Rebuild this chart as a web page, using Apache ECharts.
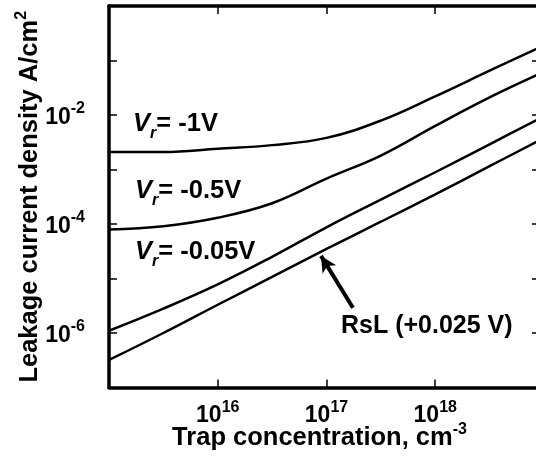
<!DOCTYPE html>
<html>
<head>
<meta charset="utf-8">
<script src="https://cdn.jsdelivr.net/npm/echarts@6/dist/echarts.min.js"></script>
<style>
  html, body { margin: 0; padding: 0; background: #fff; }
  #chart { width: 536px; height: 457px; }
</style>
</head>
<body>
<div id="chart"></div>
<script>
// trap concentration (cm^-3), half-decade steps
const trapConc = [1e15, 3.16e15, 1e16, 3.16e16, 1e17, 3.16e17, 1e18, 3.16e18, 1e19];
// leakage current density (A/cm^2)
const vr1 = [2.1e-3, 2.1e-3, 2.4e-3, 2.8e-3, 3.8e-3, 7.9e-3, 2.2e-2, 6.5e-2, 0.19];
const vr05 = [7.9e-5, 9.1e-5, 1.3e-4, 2.4e-4, 6.8e-4, 1.8e-3, 6.3e-3, 2.1e-2, 6.2e-2];
const vr005 = [1.1e-6, 2.8e-6, 7.8e-6, 2.5e-5, 8.7e-5, 2.8e-4, 8.9e-4, 2.9e-3, 9.5e-3];
const rsl = [3.2e-7, 1.0e-6, 3.3e-6, 1.07e-5, 3.5e-5, 1.1e-4, 3.5e-4, 1.15e-3, 3.8e-3];

// decades that carry a label
const xLabelExps = [16, 17, 18];
const yLabelExps = [-2, -4, -6];

// arrow from the RsL label to its curve
const arrowFrom = [1.75e17, 2.9e-6];
const arrowTo = [8.9e16, 2.6e-5];

const FONT = 'Liberation Sans, Arial, Helvetica, sans-serif';

function pairs(ys) {
    return trapConc.map(function (x, i) { return [x, ys[i]]; });
}

function powLabel(list) {
    return function (value) {
        const e = Math.round(Math.log10(value));
        if (list.indexOf(e) < 0) return '';
        return '{b|10}{s|' + e + '}';
    };
}

const powRich = {
    b: { fontFamily: FONT, fontWeight: 'bold', fontSize: 23, lineHeight: 28, verticalAlign: 'bottom', color: '#000' },
    s: { fontFamily: FONT, fontWeight: 'bold', fontSize: 16, lineHeight: 16, verticalAlign: 'top', color: '#000' }
};

const nameRich = {
    n: { fontFamily: FONT, fontWeight: 'bold', fontSize: 25.5, lineHeight: 29, verticalAlign: 'bottom', color: '#000' },
    s: { fontFamily: FONT, fontWeight: 'bold', fontSize: 16, lineHeight: 16, verticalAlign: 'top', color: '#000' }
};

const vRich = {
    v: { fontFamily: FONT, fontWeight: 'bold', fontStyle: 'italic', fontSize: 25.5, lineHeight: 25, verticalAlign: 'top', color: '#000' },
    r: { fontFamily: FONT, fontWeight: 'bold', fontStyle: 'italic', fontSize: 16, lineHeight: 31, verticalAlign: 'bottom', color: '#000' },
    t: { fontFamily: FONT, fontWeight: 'bold', fontSize: 25.5, lineHeight: 25, verticalAlign: 'top', color: '#000' }
};

const axisLine = { show: true, onZero: false, lineStyle: { color: '#000', width: 3.5 } };
const axisTick = { show: true, inside: true, length: 8, lineStyle: { color: '#000', width: 1.5 } };

function curve(name, ys) {
    return {
        name: name,
        type: 'line',
        data: pairs(ys),
        smooth: 0.4,
        showSymbol: false,
        silent: true,
        lineStyle: { color: '#000', width: 2.5 }
    };
}

const chart = echarts.init(document.getElementById('chart'));

const rslSeries = curve('RsL', rsl);
rslSeries.markLine = {
    silent: true,
    symbol: ['none', 'arrow'],
    symbolSize: [12, 16],
    label: { show: false },
    lineStyle: { color: '#000', width: 4, type: 'solid' },
    data: [[{ coord: arrowFrom }, { coord: arrowTo }]]
};

const option = {
    animation: false,
    backgroundColor: '#fff',
    grid: { left: 109, top: 6, width: 435, height: 381.5, outerBoundsMode: 'none', containLabel: false },
    xAxis: [
        {
            type: 'log', logBase: 10, min: 1e15, max: 1e19, interval: 1,
            position: 'bottom',
            name: '{n|Trap concentration, cm}{s|-3}',
            nameLocation: 'middle', nameGap: 34, nameMoveOverlap: false,
            nameTextStyle: { rich: nameRich, padding: [0, 14, 0, 0] },
            axisLine: axisLine, axisTick: axisTick,
            splitLine: { show: false }, minorTick: { show: false },
            axisLabel: { margin: 12, formatter: powLabel(xLabelExps), rich: powRich }
        },
        {
            type: 'log', logBase: 10, min: 1e15, max: 1e19, interval: 1,
            position: 'top',
            axisLine: axisLine, axisTick: axisTick,
            splitLine: { show: false }, axisLabel: { show: false }
        }
    ],
    yAxis: [
        {
            type: 'log', logBase: 10, min: 1e-7, max: 1, interval: 1,
            position: 'left',
            name: '{n|Leakage current density A/cm}{s|2}',
            nameLocation: 'middle', nameGap: 66, nameRotate: 90, nameMoveOverlap: false,
            nameTextStyle: { rich: nameRich },
            axisLine: axisLine, axisTick: axisTick,
            splitLine: { show: false }, minorTick: { show: false },
            axisLabel: { margin: 24, formatter: powLabel(yLabelExps), rich: powRich }
        },
        {
            type: 'log', logBase: 10, min: 1e-7, max: 1, interval: 1,
            position: 'right',
            axisLine: axisLine,
            axisTick: { show: true, inside: true, length: 12, lineStyle: { color: '#000', width: 1.5 } },
            splitLine: { show: false }, axisLabel: { show: false }
        }
    ],
    series: [
        curve('Vr=-1V', vr1),
        curve('Vr=-0.5V', vr05),
        curve('Vr=-0.05V', vr005),
        rslSeries
    ],
    graphic: [
        { type: 'text', left: 133, top: 111, silent: true,
          style: { text: '{v|V}{r|r}{t|= -1V}', rich: vRich } },
        { type: 'text', left: 135, top: 178, silent: true,
          style: { text: '{v|V}{r|r}{t|= -0.5V}', rich: vRich } },
        { type: 'text', left: 135, top: 239, silent: true,
          style: { text: '{v|V}{r|r}{t|= -0.05V}', rich: vRich } },
        { type: 'text', left: 341, top: 314, silent: true,
          style: { text: 'RsL (+0.025 V)', font: 'bold 25px ' + FONT, fill: '#000' } }
    ]
};

chart.setOption(option);
</script>
</body>
</html>
